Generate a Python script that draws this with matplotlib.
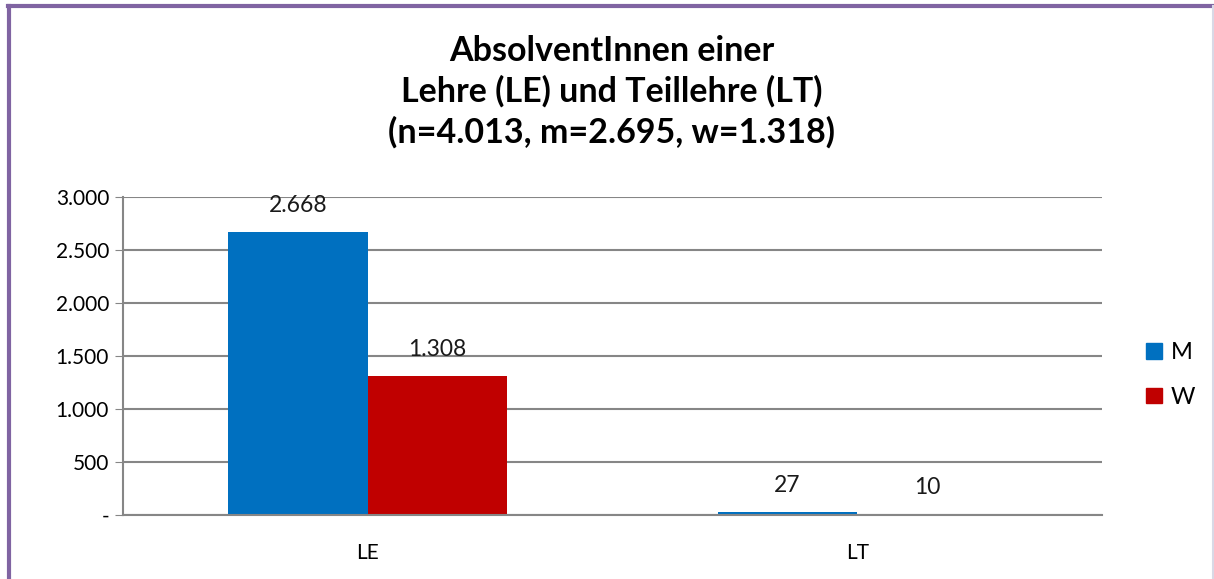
import matplotlib
matplotlib.use("Agg")
import matplotlib.pyplot as plt
import numpy as np
from matplotlib.lines import Line2D
from matplotlib.patches import Patch
from matplotlib.ticker import FuncFormatter

plt.rcParams["font.family"] = ["Lato", "DejaVu Sans"]

categories = ["LE", "LT"]
series = ["M", "W"]
values_m = [2668, 27]
values_w = [1308, 10]
colors = ["#0070C0", "#C00000"]
title = "AbsolventInnen einer\nLehre (LE) und Teillehre (LT)\n(n=4.013, m=2.695, w=1.318)"


def fmt_de(v, pos=None):
    if v == 0:
        return "-"
    return f"{int(v):,}".replace(",", ".")


W, H = 1214, 579
fig = plt.figure(figsize=(W / 100, H / 100), dpi=100)
ax = fig.add_axes([123 / W, 1 - 515 / H, (1102 - 123) / W, (515 - 197) / H])

x = np.arange(len(categories))
bw = 0.285
bars_m = ax.bar(x - bw / 2, values_m, bw, color=colors[0], label=series[0])
bars_w = ax.bar(x + bw / 2, values_w, bw, color=colors[1], label=series[1])
for bars in (bars_m, bars_w):
    for b in bars:
        v = b.get_height()
        ax.annotate(fmt_de(v), (b.get_x() + b.get_width() / 2, v),
                    xytext=(0, 19), textcoords="offset points",
                    ha="center", va="center", fontsize=16.5, color="#1a1a1a")

ax.set_xlim(-0.5, 1.5)
ax.set_ylim(0, 3000)
ax.set_yticks(np.arange(0, 3001, 500))
ax.yaxis.set_major_formatter(FuncFormatter(fmt_de))
ax.set_xticks(x)
ax.set_xticklabels(categories)
ax.tick_params(axis="y", length=6, color="#868686", labelsize=15, pad=4)
ax.tick_params(axis="x", length=0, labelsize=15, pad=20)
ax.grid(axis="y", color="#868686", linewidth=1.5)
ax.set_axisbelow(True)
for s in ("top", "right"):
    ax.spines[s].set_visible(False)
for s in ("left", "bottom"):
    ax.spines[s].set_color("#868686")
    ax.spines[s].set_linewidth(1.5)

fig.text(612 / W, 1 - 92 / H, title, ha="center", va="center",
         fontsize=24.5, fontweight="bold", linespacing=1.3)

handles = [Patch(color=c, label=s) for c, s in zip(colors, series)]
fig.legend(handles=handles, loc="center left", bbox_to_anchor=(1125 / W, 1 - 375 / H),
           frameon=False, fontsize=17, handlelength=0.65, handleheight=0.65,
           handletextpad=0.4, labelspacing=1.0)

# purple frame
fig.add_artist(Line2D([9 / W, 9 / W], [0, 1 - 6 / H], color="#8064A2", lw=3,
                      transform=fig.transFigure))
fig.add_artist(Line2D([7.5 / W, 1], [1 - 6 / H, 1 - 6 / H], color="#8064A2", lw=3,
                      transform=fig.transFigure))
fig.add_artist(Line2D([1212.5 / W, 1212.5 / W], [0, 1 - 6 / H], color="#D9D9E6", lw=1.5,
                      transform=fig.transFigure))

fig.savefig("out.png", dpi=100)
